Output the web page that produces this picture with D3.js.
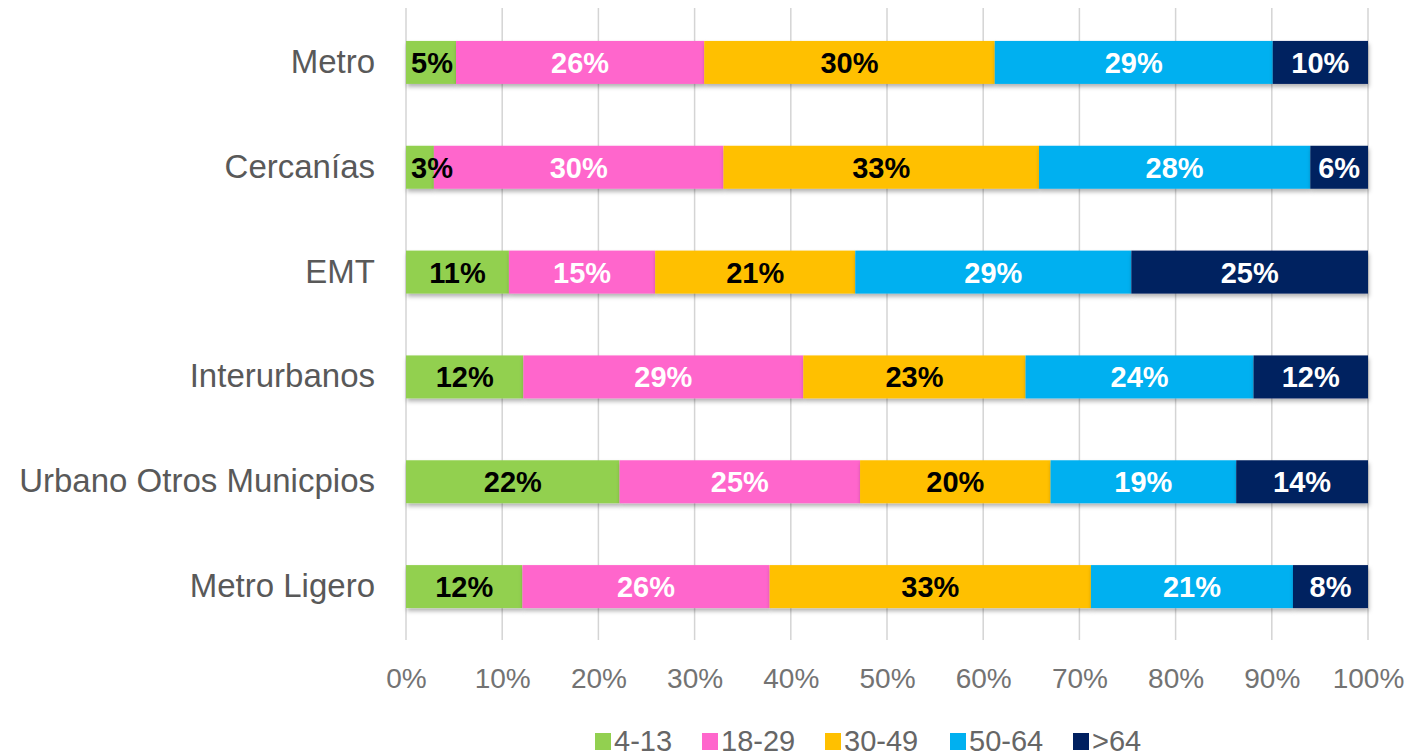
<!DOCTYPE html>
<html><head><meta charset="utf-8">
<script src="https://cdn.jsdelivr.net/npm/d3@7"></script>
<style>body{margin:0;background:#fff;} svg{display:block;font-family:"Liberation Sans",Arial,sans-serif;}</style>
</head><body>
<svg id="chart" width="1414" height="756"></svg>
<script>
const categories = ["Metro","Cercanías","EMT","Interurbanos","Urbano Otros Municpios","Metro Ligero"];
const seriesNames = ["4-13","18-29","30-49","50-64",">64"];
const seriesColors = ["#92D050","#FF66CC","#FFC000","#00B0F0","#002060"];
const labelColors = ["#000000","#ffffff","#000000","#ffffff","#ffffff"];
const v413  = [5.2, 2.9, 10.7, 12.2, 22.2, 12.1];
const v1829 = [25.8, 30.1, 15.2, 29.1, 25.0, 25.7];
const v3049 = [30.2, 32.8, 20.8, 23.1, 19.8, 33.4];
const v5064 = [28.9, 28.2, 28.7, 23.7, 19.3, 21.0];
const v64   = [9.9, 6.0, 24.6, 11.9, 13.7, 7.8];
const tickValues = [0,10,20,30,40,50,60,70,80,90,100];

const seriesValues = [v413, v1829, v3049, v5064, v64];
const rows = categories.map((c,i)=>{ const o={cat:c}; seriesNames.forEach((s,j)=>o[s]=seriesValues[j][i]); return o; });
const stack = d3.stack().keys(seriesNames)(rows);

const svg = d3.select("#chart");
const x = d3.scaleLinear().domain([0,100]).range([406,1368]);
const y = d3.scaleBand().domain(categories).range([10,639]).paddingInner(0.59).paddingOuter(0.295);

const defs = svg.append("defs");
const f = defs.append("filter").attr("id","sh").attr("x","-5%").attr("y","-20%").attr("width","110%").attr("height","160%");
f.append("feDropShadow").attr("dx",1).attr("dy",3).attr("stdDeviation",2).attr("flood-color","#000").attr("flood-opacity",0.3);

// gridlines
svg.append("g").selectAll("line").data(tickValues).join("line")
  .attr("x1",d=>x(d)).attr("x2",d=>x(d)).attr("y1",8).attr("y2",640)
  .attr("stroke","#d4d4d4").attr("stroke-width",1.5);

// bars
const gBars = svg.append("g");
stack.forEach((layer,j)=>{
  const g = gBars.append("g").attr("filter","url(#sh)");
  g.selectAll("rect").data(layer).join("rect")
    .attr("x",d=>x(d[0])).attr("width",d=>x(d[1])-x(d[0]))
    .attr("y",d=>y(d.data.cat)).attr("height",y.bandwidth())
    .attr("fill",seriesColors[j]);
});
stack.forEach((layer,j)=>{
  gBars.append("g").selectAll("text").data(layer).join("text")
    .attr("x",d=>Math.max((x(d[0])+x(d[1]))/2, x(d[0])+26)).attr("y",d=>y(d.data.cat)+y.bandwidth()/2)
    .attr("dy","0.36em").attr("text-anchor","middle")
    .attr("font-size",29).attr("font-weight","bold").attr("fill",labelColors[j])
    .text(d=>Math.round(d[1]-d[0])+"%");
});

// category labels
const yAxis = d3.axisLeft(y).tickSize(0).tickPadding(31);
const ya = svg.append("g").attr("transform","translate(406,0)").call(yAxis);
ya.select(".domain").remove();
ya.selectAll("text").attr("font-size",33).attr("fill","#595959").attr("font-family","'Liberation Sans',Arial,sans-serif");

// x axis
const xAxis = d3.axisBottom(x).tickValues(tickValues).tickSize(0).tickPadding(0).tickFormat(d=>d+"%");
const xa = svg.append("g").attr("transform","translate(0,678)").call(xAxis);
xa.select(".domain").remove();
xa.selectAll("text").attr("dy","0.36em").attr("font-size",28).attr("fill","#737373").attr("font-family","'Liberation Sans',Arial,sans-serif");

// legend
const legX = [595,702,825,950,1073];
const lg = svg.append("g");
seriesNames.forEach((s,j)=>{
  const g = lg.append("g").attr("transform",`translate(${legX[j]},741)`);
  g.append("rect").attr("x",0).attr("y",-8).attr("width",16).attr("height",17).attr("fill",seriesColors[j]);
  g.append("text").attr("x",19).attr("dy","0.36em").attr("font-size",29).attr("fill","#666666").text(s);
});
</script>
</body></html>
